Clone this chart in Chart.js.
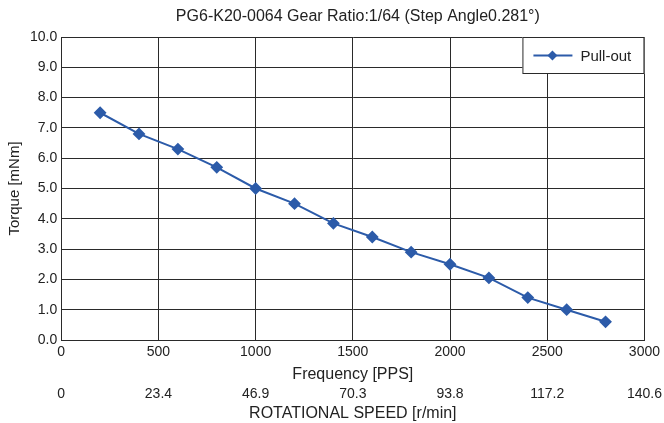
<!DOCTYPE html>
<html>
<head>
<meta charset="utf-8">
<script src="https://cdn.jsdelivr.net/npm/chart.js@4"></script>
<style>
html,body{margin:0;padding:0;background:#fff;}
#wrap{width:664px;height:423px;}
</style>
</head>
<body>
<div id="wrap"><canvas id="c" width="664" height="423"></canvas></div>
<script>
const frequency = [200, 400, 600, 800, 1000, 1200, 1400, 1600, 1800, 2000, 2200, 2400, 2600, 2800];
const pullOut = [7.5, 6.8, 6.3, 5.7, 5.0, 4.5, 3.85, 3.4, 2.9, 2.5, 2.05, 1.4, 1.0, 0.6];
const speedLabels = ['0', '23.4', '46.9', '70.3', '93.8', '117.2', '140.6'];
const seriesName = 'Pull-out';
const chartTitle = 'PG6-K20-0064 Gear Ratio:1/64 (Step Angle0.281°)';

const blue = '#2c5ba9';
const gridCol = '#2a2a2a';
const textCol = '#222';
const font = "'Liberation Sans', Arial, Helvetica, sans-serif";

const decorPlugin = {
  id: 'decor',
  afterDraw(chart) {
    const ctx = chart.ctx, a = chart.chartArea;
    ctx.save();
    // title
    ctx.fillStyle = textCol;
    ctx.font = '16px ' + font;
    ctx.textAlign = 'center';
    ctx.textBaseline = 'middle';
    ctx.fillText(chartTitle, (a.left + a.right) / 2 + 5, 17);
    // legend
    const w = 122, h = 37;
    const x = a.right - w, y = a.top;
    ctx.fillStyle = '#fff';
    ctx.fillRect(x, y, w, h);
    ctx.strokeStyle = gridCol;
    ctx.lineWidth = 1;
    ctx.strokeRect(x + 0.5, y + 0.5, w - 1, h - 1);
    const ly = y + h / 2;
    ctx.strokeStyle = blue;
    ctx.lineWidth = 2;
    ctx.beginPath();
    ctx.moveTo(x + 11, ly);
    ctx.lineTo(x + 50, ly);
    ctx.stroke();
    ctx.fillStyle = blue;
    ctx.beginPath();
    ctx.moveTo(x + 30, ly - 5);
    ctx.lineTo(x + 35, ly);
    ctx.lineTo(x + 30, ly + 5);
    ctx.lineTo(x + 25, ly);
    ctx.closePath();
    ctx.fill();
    ctx.fillStyle = textCol;
    ctx.font = '15px ' + font;
    ctx.textAlign = 'left';
    ctx.fillText(seriesName, x + 58, ly + 1);
    ctx.restore();
  }
};

new Chart(document.getElementById('c'), {
  type: 'line',
  data: {
    datasets: [{
      label: seriesName,
      data: frequency.map((f, i) => ({x: f, y: pullOut[i]})),
      borderColor: blue,
      backgroundColor: blue,
      borderWidth: 2,
      pointStyle: 'rectRot',
      pointRadius: 5,
      pointHoverRadius: 5,
      tension: 0
    }]
  },
  options: {
    responsive: false,
    animation: false,
    layout: {padding: {left: 3, right: 2, top: 37, bottom: 0}},
    plugins: {
      legend: {display: false},
      tooltip: {enabled: false},
      title: {display: false}
    },
    scales: {
      x: {
        type: 'linear',
        position: 'bottom',
        weight: 0,
        min: 0, max: 3000,
        ticks: {stepSize: 500, color: textCol, font: {family: font, size: 14}, padding: 4, maxRotation: 0,
          callback: v => String(v)},
        grid: {color: gridCol, lineWidth: 1, drawTicks: false},
        border: {color: gridCol, width: 1},
        title: {display: true, text: 'Frequency [PPS]', color: textCol, font: {family: font, size: 16}, padding: {top: 0, bottom: 1}}
      },
      x2: {
        type: 'linear',
        position: 'bottom',
        weight: 1,
        min: 0, max: 3000,
        ticks: {stepSize: 500, color: textCol, font: {family: font, size: 14}, padding: 1, maxRotation: 0,
          callback: (v, i) => speedLabels[i]},
        grid: {display: false, drawTicks: false},
        border: {display: false},
        title: {display: true, text: 'ROTATIONAL SPEED [r/min]', color: textCol, font: {family: font, size: 16}, padding: {top: 0, bottom: 0}}
      },
      y: {
        min: 0, max: 10,
        ticks: {stepSize: 1, color: textCol, font: {family: font, size: 14}, padding: 4,
          callback: v => Number(v).toFixed(1)},
        grid: {color: gridCol, lineWidth: 1, drawTicks: false},
        border: {color: gridCol, width: 1},
        title: {display: true, text: 'Torque [mNm]', color: textCol, font: {family: font, size: 15}, padding: {top: 3, bottom: 2}}
      }
    }
  },
  plugins: [decorPlugin]
});
</script>
</body>
</html>
